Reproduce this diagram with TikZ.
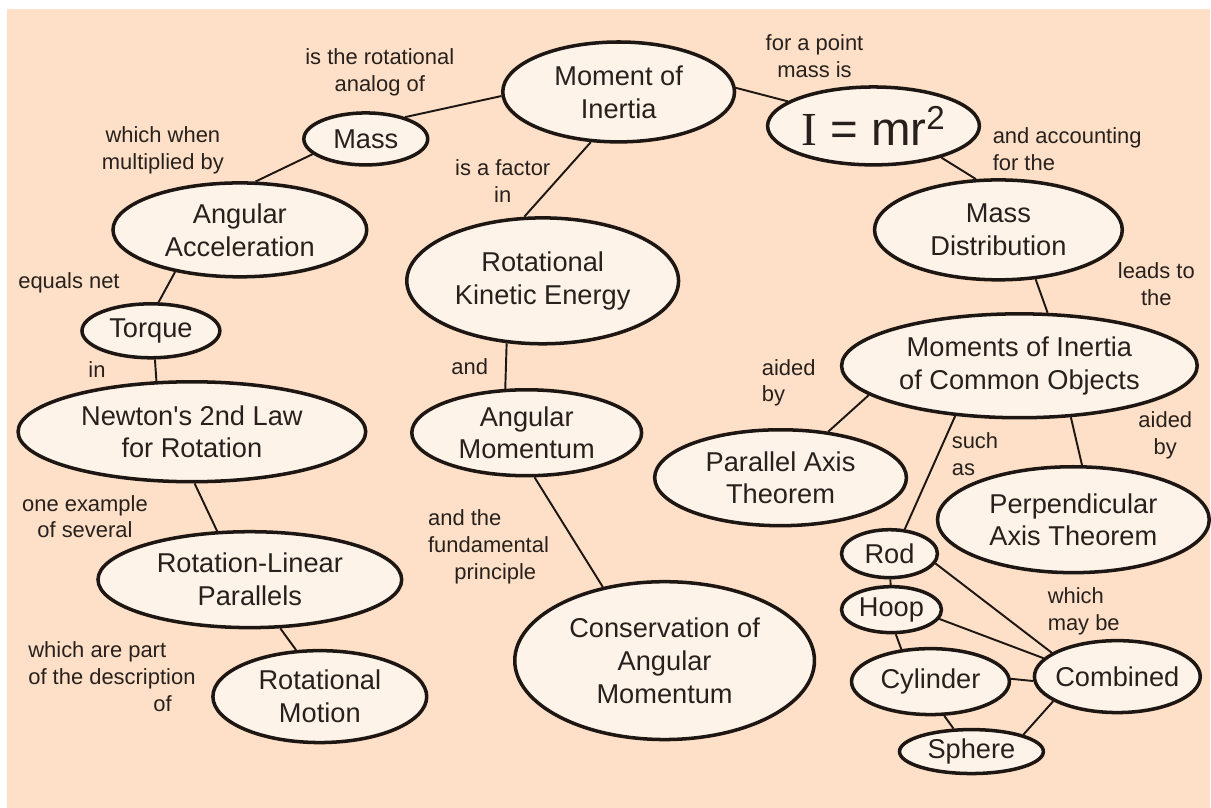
\documentclass[tikz,border=0pt]{standalone}
\usepackage{fontspec}
\setmainfont{Liberation Sans}
\newfontfamily\serifface{Liberation Serif}
\usetikzlibrary{shapes.geometric}
\definecolor{peach}{RGB}{253,224,199}
\definecolor{ovalfill}{RGB}{253,243,233}
\definecolor{inkline}{RGB}{30,22,18}
\definecolor{inktext}{RGB}{40,32,28}

\begin{document}
\begin{tikzpicture}[
  x=0.02cm, y=-0.02cm,
  concept/.style 2 args={ellipse, draw=inkline, line width=2pt, fill=ovalfill,
    text=inktext, minimum width=#1*0.04cm, minimum height=#2*0.04cm,
    inner xsep=-2pt, inner ysep=0pt, align=center,
    font=\fontsize{15.5}{18.7}\selectfont},
  lbl/.style={text=inktext, align=center, inner sep=0pt,
    font=\fontsize{12.5}{15.3}\selectfont},
  link/.style={draw=inkline, line width=1.1pt}
]
% page and paper
\fill[white] (0,0) rectangle (1211,808);
\fill[peach] (7,9) rectangle (1211,808);

% concepts
\node[concept={116}{50}] (moi) at (619,92) {Moment of\\Inertia};
\node[concept={62}{26}] (mass) at (366,139) {Mass};
\node[concept={106}{39}] (formula) at (874,126)
  {\fontsize{27}{30}\selectfont{\serifface I} = mr\textsuperscript{2}};
\node[concept={127}{47}] (angacc) at (240,230) {Angular\\Acceleration};
\node[concept={136}{63}] (rotke) at (543,281) {Rotational\\Kinetic Energy};
\node[concept={124}{50}] (massdist) at (999,230) {Mass\\Distribution};
\node[concept={69}{27}] (torque) at (151,331) {Torque};
\node[concept={174}{50}] (newton) at (192,432) {Newton\textquotesingle s 2nd Law\\for Rotation};
\node[concept={152}{48}] (rotlin) at (250,580) {Rotation-Linear\\Parallels};
\node[concept={107}{46}] (rotmotion) at (320,697) {Rotational\\Motion};
\node[concept={115}{43}] (angmom) at (527,433) {Angular\\Momentum};
\node[concept={150}{79}] (conserv) at (665,661) {Conservation of\\Angular\\Momentum};
\node[concept={126}{48}] (parallel) at (781,478) {Parallel Axis\\Theorem};
\node[concept={178}{52}] (common) at (1020,366) {Moments of Inertia\\of Common Objects};
\node[concept={136}{53}] (perp) at (1074,520) {Perpendicular\\Axis Theorem};
\node[concept={48}{24}] (rod) at (890,554) {Rod};
\node[concept={50}{23}] (hoop) at (892,610) {Hoop};
\node[concept={79}{33}] (cyl) at (931,682) {Cylinder};
\node[concept={83}{36}] (comb) at (1118,677) {Combined};
\node[concept={72}{22}] (sphere) at (972,752) {Sphere};

% link phrases
\node[lbl] (analoglbl) at (380,72) {is the rotational\\analog of};
\node[lbl] (pointlbl) at (815,56) {for a point\\mass is};
\node[lbl] (multlbl) at (163,150) {which when\\multiplied by};
\node[lbl] (factorlbl) at (503,181) {is a factor\\in};
\node[lbl, align=left, anchor=west] (acctlbl) at (993,149) {and accounting\\for the};
\node[lbl] (netlbl) at (69,283) {equals net};
\node[lbl] (inlbl) at (97,370) {in};
\node[lbl] (leadslbl) at (1157,284) {leads to\\the};
\node[lbl] (andlbl) at (470,367) {and};
\node[lbl, align=left, anchor=west] (aidedlbl) at (762,383) {aided\\by};
\node[lbl] (aidedrlbl) at (1166,436) {aided\\by};
\node[lbl, align=left, anchor=west] (suchlbl) at (952,454) {such\\as};
\node[lbl] (examplelbl) at (85,517) {one example\\of several};
\node[lbl, align=left, anchor=west] (partlbl) at (28,677)
  {which are part\\of the description\\\hspace*{5.7em}of};
\node[lbl, align=left, anchor=west] (principlelbl) at (428,547)
  {and the\\fundamental\\\hspace*{1.2em}principle};
\node[lbl, align=left, anchor=west] (maybelbl) at (1048,612) {which\\may be};

% connectors
\draw[link] (mass.29) -- (moi.182);
\draw[link] (moi.2) -- (formula.164);
\draw[link] (moi.-119) -- (rotke.106);
\draw[link] (mass.196) -- (angacc.72);
\draw[link] (angacc.-147) -- (torque.75);
\draw[link] (torque.-82) -- (newton.125);
\draw[link] (newton.-87) -- (rotlin.124);
\draw[link] (rotlin.-58) -- (rotmotion.117);
\draw[link] (rotke.-120) -- (angmom.116);
\draw[link] (angmom.-80) -- (conserv.130);
\draw[link] (formula.-25) -- (massdist.114);
\draw[link] (massdist.-53) -- (common.62);
\draw[link] (common.191) -- (parallel.44);
\draw[link] (common.-45) -- (perp.81);
\draw[link] (common.-142) -- (rod.58);
\draw[link] (rod) -- (hoop);
\draw[link] (rod.-12) -- (comb.160);
\draw[link] (hoop.-11) -- (comb.166);
\draw[link] (hoop.-80) -- (cyl.132);
\draw[link] (cyl.2) -- (comb.183);
\draw[link] (cyl.-68) -- (sphere.128);
\draw[link] (sphere.18) -- (comb.-159);
\end{tikzpicture}
\end{document}
